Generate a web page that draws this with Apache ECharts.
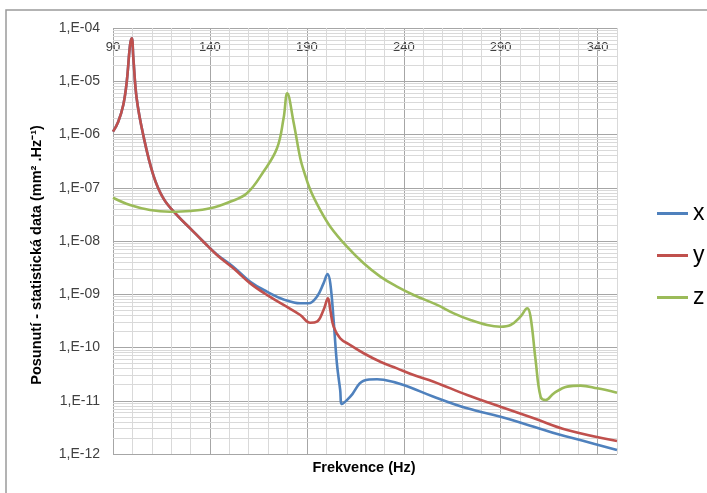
<!DOCTYPE html>
<html>
<head>
<meta charset="utf-8">
<script src="https://cdn.jsdelivr.net/npm/echarts@6/dist/echarts.min.js"></script>
<style>
html,body{margin:0;padding:0;background:#fff;}
#c{width:707px;height:493px;}
</style>
</head>
<body>
<div id="c"></div>
<script>
// ---- data ----
const xTicks = [90, 140, 190, 240, 290, 340];
const seriesNames = ['x', 'y', 'z'];

const freqX = [90, 92.7, 95.3, 97.1, 98.8, 99.7, 100.5, 102.2, 105.6, 110.8, 116, 122.9, 129.8, 136.6, 143.6, 152, 160.8, 169.4, 178, 186.6, 190.9, 195.2, 198.6, 200.7, 202.1, 203.8, 205.5, 207.2, 208.1, 212.4, 219.3, 226.2, 229.6, 239.9, 255.4, 272.7, 289.9, 307.1, 319.2, 332.9, 350];
const valX = [1.13e-6, 1.74e-6, 3.58e-6, 9.8e-6, 4.8e-5, 6.4e-5, 2.7e-5, 4.8e-6, 9.8e-7, 1.73e-7, 6.3e-8, 3.08e-8, 1.73e-8, 9.8e-9, 5.6e-9, 3.29e-9, 1.72e-9, 1.12e-9, 8.0e-10, 6.76e-10, 6.76e-10, 9.0e-10, 1.6e-9, 2.4e-9, 1.6e-9, 3.28e-10, 5.05e-11, 1.59e-11, 8.7e-12, 1.19e-11, 2.38e-11, 2.53e-11, 2.48e-11, 1.98e-11, 1.19e-11, 7.2e-12, 5.0e-12, 3.26e-12, 2.37e-12, 1.75e-12, 1.19e-12];

const freqY = [90, 92.7, 95.3, 97.1, 98.8, 99.7, 100.5, 102.2, 105.6, 110.8, 116, 122.9, 129.8, 136.6, 143.6, 152.1, 160.8, 169.4, 178, 186.6, 191.8, 195.2, 198.6, 200.9, 202.1, 203.8, 207.2, 212.4, 219.3, 227.9, 236.5, 245.1, 255.4, 272.7, 289.9, 307.1, 324.3, 350];
const valY = [1.13e-6, 1.74e-6, 3.58e-6, 9.8e-6, 4.8e-5, 6.4e-5, 2.7e-5, 4.8e-6, 9.8e-7, 1.73e-7, 6.3e-8, 3.08e-8, 1.73e-8, 9.7e-9, 5.46e-9, 3.07e-9, 1.60e-9, 9.7e-10, 6.3e-10, 4.07e-10, 2.92e-10, 3.05e-10, 5.06e-10, 8.4e-10, 5.06e-10, 2.46e-10, 1.49e-10, 1.11e-10, 7.8e-11, 5.4e-11, 4.06e-11, 3.04e-11, 2.28e-11, 1.28e-11, 7.7e-12, 4.68e-12, 2.82e-12, 1.75e-12];

const freqZ = [90, 98.8, 109.1, 119.4, 129.8, 140.1, 150.4, 159.1, 167.6, 174.6, 178, 179.9, 183.1, 186.6, 188.3, 191.8, 196.9, 202.1, 210.7, 219.3, 227.9, 236.5, 245.1, 257.2, 265.8, 274.4, 283, 289.9, 295.1, 300.2, 303.7, 305.4, 308, 310.6, 313.1, 317.4, 324.3, 331.2, 339.8, 350];
const valZ = [6.5e-8, 4.74e-8, 3.82e-8, 3.55e-8, 3.66e-8, 4.11e-8, 5.47e-8, 7.87e-8, 2.0e-7, 5.5e-7, 2.01e-6, 5.94e-6, 1.74e-6, 3.57e-7, 2.15e-7, 9.08e-8, 3.82e-8, 1.86e-8, 7.8e-9, 3.81e-9, 2.14e-9, 1.39e-9, 9.7e-10, 6.3e-10, 4.38e-10, 3.28e-10, 2.64e-10, 2.46e-10, 2.64e-10, 3.79e-10, 5.45e-10, 3.79e-10, 5.82e-11, 1.19e-11, 1.03e-11, 1.38e-11, 1.84e-11, 1.92e-11, 1.71e-11, 1.42e-11];

// ---- chart ----
const X_MIN = 90, X_MAX = 350;
const pairs = (f, v) => f.map((x, i) => [x, v[i]]);
const minorY = [];
for (let e = -12; e < -4; e++) {
  for (let k = 2; k <= 9; k++) minorY.push(k * Math.pow(10, e));
}
const fmtY = v => {
  const e = Math.round(Math.log10(v));
  return '1,E' + (e < 0 ? '-' : '+') + String(Math.abs(e)).padStart(2, '0');
};
const FONT = '"Liberation Sans", Arial, sans-serif';
const colors = ['#4F81BD', '#C0504D', '#9BBB59'];
const lineSeries = (name, f, v, c) => ({
  name, type: 'line', data: pairs(f, v), showSymbol: false, symbol: 'none',
  smooth: 0.4,
  lineStyle: { color: c, width: 2.6 }, itemStyle: { color: c }, z: 3
});

const chart = echarts.init(document.getElementById('c'), null, { renderer: 'canvas' });
chart.setOption({
  animation: false,
  backgroundColor: '#fff',
  textStyle: { fontFamily: FONT },
  grid: { left: 113, top: 28, width: 504, height: 426, containLabel: false },
  xAxis: {
    type: 'value', position: 'top', min: X_MIN, max: X_MAX, interval: 10,
    axisLine: { show: false }, axisTick: { show: false },
    axisLabel: {
      inside: true, margin: 13, color: '#404040', fontSize: 13, fontFamily: FONT,
      formatter: v => (xTicks.indexOf(Math.round(v)) >= 0 ? String(Math.round(v)) : '')
    },
    splitLine: { show: true, lineStyle: { color: ['#a6a6a6', '#d9d9d9', '#d9d9d9', '#d9d9d9', '#d9d9d9'], width: 1 } }
  },
  yAxis: {
    type: 'log', logBase: 10, min: 1e-12, max: 1e-4, splitNumber: 8,
    axisLine: { show: false }, axisTick: { show: false },
    axisLabel: { margin: 13, color: '#404040', fontSize: 14, fontFamily: FONT, formatter: fmtY },
    splitLine: { show: true, lineStyle: { color: '#a6a6a6', width: 1 } }
  },
  legend: {
    data: seriesNames, orient: 'vertical', left: 652, top: 197,
    icon: 'rect', itemWidth: 31, itemHeight: 3, itemGap: 19,
    textStyle: { fontSize: 23, color: '#000', fontFamily: FONT, lineHeight: 22 }
  },
  graphic: [
    { type: 'rect', shape: { x: 6, y: 10, width: 720, height: 520 }, style: { fill: null, stroke: '#9a9a9a', lineWidth: 1.5 }, silent: true, z: 10 },
    { type: 'text', x: 37, y: 255, rotation: Math.PI / 2,
      style: { text: 'Posunutí - statistická data (mm² .Hz⁻¹)', font: 'bold 14.5px ' + FONT, fill: '#000', align: 'center', verticalAlign: 'middle' }, silent: true },
    { type: 'text', x: 364, y: 468,
      style: { text: 'Frekvence (Hz)', font: 'bold 14.5px ' + FONT, fill: '#000', align: 'center', verticalAlign: 'middle' }, silent: true }
  ],
  series: [
    { name: 'minorgrid', type: 'lines', coordinateSystem: 'cartesian2d', silent: true, z: 1,
      polyline: false, effect: { show: false },
      lineStyle: { color: '#d9d9d9', width: 1, opacity: 1, curveness: 0 },
      data: minorY.map(v => ({ coords: [[X_MIN, v], [X_MAX, v]] })) },
    lineSeries('x', freqX, valX, colors[0]),
    lineSeries('y', freqY, valY, colors[1]),
    lineSeries('z', freqZ, valZ, colors[2])
  ]
});
</script>
</body>
</html>
